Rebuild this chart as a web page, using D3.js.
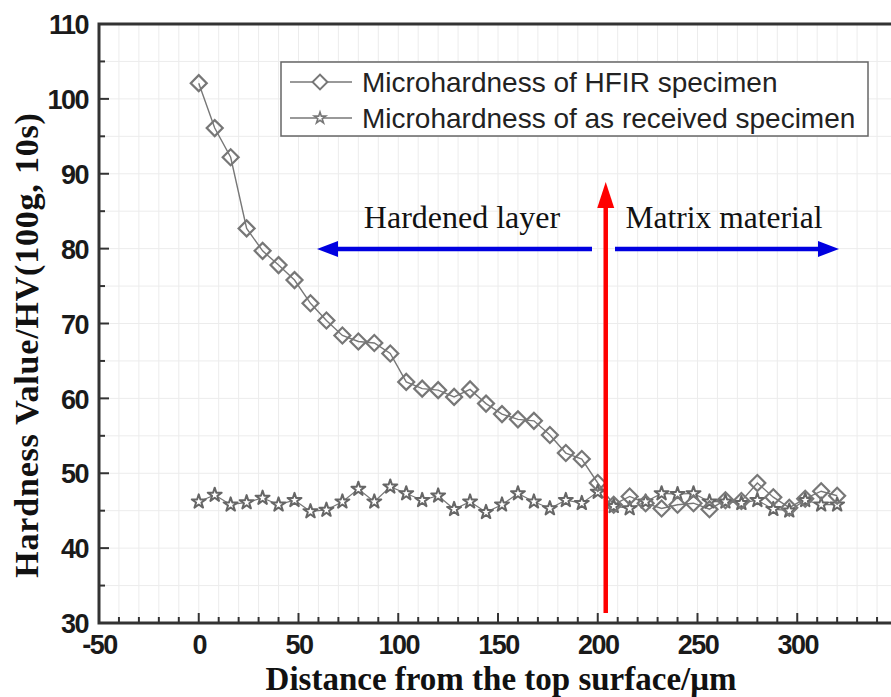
<!DOCTYPE html>
<html>
<head>
<meta charset="utf-8">
<script src="https://cdn.jsdelivr.net/npm/d3@7"></script>
<style>
  html, body { margin: 0; padding: 0; background: #fff; }
  svg { display: block; }
</style>
</head>
<body>
<svg id="chart" width="891" height="697"></svg>
<script>
// Measurement positions (µm from the top surface)
const distances = [0, 8, 16, 24, 32, 40, 48, 56, 64, 72, 80, 88, 96, 104, 112, 120, 128, 136, 144, 152,
  160, 168, 176, 184, 192, 200, 208, 216, 224, 232, 240, 248, 256, 264, 272, 280, 288, 296, 304, 312, 320];

// Microhardness of the HFIR-treated specimen (HV)
const hfirValues = [102.1, 96.1, 92.2, 82.7, 79.7, 77.8, 75.8, 72.7, 70.4, 68.4, 67.6, 67.4, 66.0, 62.2, 61.3,
  61.1, 60.2, 61.2, 59.3, 57.9, 57.2, 57.0, 55.1, 52.7, 51.9, 48.7, 45.8, 46.9, 46.0, 45.3, 45.8, 46.0, 45.2,
  46.4, 46.3, 48.7, 46.8, 45.4, 46.6, 47.6, 47.0];

// Microhardness of the as-received specimen (HV)
const receivedValues = [46.2, 47.1, 45.8, 46.1, 46.7, 45.8, 46.4, 44.9, 45.1, 46.2, 47.9, 46.2, 48.2, 47.3,
  46.4, 47.0, 45.2, 46.2, 44.8, 45.8, 47.3, 46.2, 45.3, 46.4, 46.0, 47.5, 45.6, 45.3, 46.2, 47.3, 47.2, 47.3,
  46.2, 46.2, 46.0, 46.4, 45.2, 45.0, 46.4, 45.8, 45.8];

const seriesNames = ["Microhardness of HFIR specimen", "Microhardness of as received specimen"];
const xTickValues = [-50, 0, 50, 100, 150, 200, 250, 300];
const yTickValues = [30, 40, 50, 60, 70, 80, 90, 100, 110];
const boundaryDistance = 204;
const regionLabels = ["Hardened layer", "Matrix material"];
const xTitle = "Distance from the top surface/\u03bcm";
const yTitle = "Hardness Value/HV(100g, 10s)";

const svg = d3.select("#chart");
const plotLeft = 99, plotRight = 897, plotTop = 24, plotBottom = 623;

const x = d3.scaleLinear().domain([-50, 350]).range([plotLeft, plotRight]);
const y = d3.scaleLinear().domain([30, 110]).range([plotBottom, plotTop]);

const axisColor = "#333";
const markColor = "#777";
const sans = "'Liberation Sans', Arial, sans-serif";
const serif = "'Liberation Serif', 'Times New Roman', serif";

// faint background grid
const grid = svg.append("g").attr("stroke", "#ececec").attr("stroke-width", 1);
grid.selectAll("line.v").data(d3.range(-40, 350, 10)).join("line")
  .attr("x1", d => x(d)).attr("x2", d => x(d)).attr("y1", plotTop).attr("y2", plotBottom);
grid.selectAll("line.h").data(d3.range(35, 110, 5)).join("line")
  .attr("y1", d => y(d)).attr("y2", d => y(d)).attr("x1", plotLeft).attr("x2", plotRight);

// series lines
const line = d3.line().x((d, i) => x(distances[i])).y(d => y(d));
svg.append("path").datum(receivedValues).attr("d", line)
  .attr("fill", "none").attr("stroke", markColor).attr("stroke-width", 1.2);
svg.append("path").datum(hfirValues).attr("d", line)
  .attr("fill", "none").attr("stroke", markColor).attr("stroke-width", 1.4);

const star = d3.symbol().type(d3.symbolStar).size(60);
const diamond = d3.symbol().type(d3.symbolSquare).size(128);

svg.append("g").selectAll("path").data(receivedValues).join("path")
  .attr("d", star)
  .attr("transform", (d, i) => `translate(${x(distances[i])},${y(d)})`)
  .attr("fill", "#fff").attr("stroke", "#666").attr("stroke-width", 2)
  .attr("stroke-linejoin", "round");

svg.append("g").selectAll("path").data(hfirValues).join("path")
  .attr("d", diamond)
  .attr("transform", (d, i) => `translate(${x(distances[i])},${y(d)}) rotate(45)`)
  .attr("fill", "none").attr("stroke", markColor).attr("stroke-width", 2.2);

// axes
const xAxis = d3.axisBottom(x).tickValues(xTickValues).tickSize(0).tickFormat(d => String(d));
const yAxis = d3.axisLeft(y).tickValues(yTickValues).tickSize(0).tickFormat(d => String(d));

const gx = svg.append("g").attr("transform", `translate(0,${plotBottom})`).call(xAxis);
gx.select(".domain").remove();
gx.selectAll("text").attr("dy", 0).attr("y", 31)
  .style("font-family", sans).style("font-weight", "bold")
  .style("font-size", "27px").style("letter-spacing", "-1.5px").attr("fill", "#1a1a1a");

const gy = svg.append("g").attr("transform", `translate(${plotLeft},0)`).call(yAxis);
gy.select(".domain").remove();
gy.selectAll("text").attr("x", -11).attr("dy", "0.36em")
  .style("font-family", sans).style("font-weight", "bold")
  .style("font-size", "27px").style("letter-spacing", "-1.5px").attr("fill", "#1a1a1a");

// inward tick marks
const ticks = svg.append("g").attr("stroke", axisColor).attr("stroke-width", 2);
ticks.selectAll("line.xt").data(d3.range(-40, 350, 10)).join("line")
  .attr("x1", d => x(d)).attr("x2", d => x(d))
  .attr("y1", plotBottom).attr("y2", d => plotBottom - (d % 50 === 0 ? 10 : 6));
ticks.selectAll("line.yt").data(d3.range(35, 110, 5)).join("line")
  .attr("y1", d => y(d)).attr("y2", d => y(d))
  .attr("x1", plotLeft).attr("x2", d => plotLeft + (d % 10 === 0 ? 10 : 6));

// frame
svg.append("path")
  .attr("d", `M${plotRight},${plotTop}H${plotLeft}V${plotBottom}H${plotRight}`)
  .attr("fill", "none").attr("stroke", axisColor).attr("stroke-width", 3);

// boundary arrow (red)
const redX = x(boundaryDistance);
svg.append("line").attr("x1", redX).attr("x2", redX).attr("y1", plotBottom - 10).attr("y2", 203)
  .attr("stroke", "#ff0000").attr("stroke-width", 4.5);
svg.append("path")
  .attr("d", `M${redX},182 L${redX - 8.5},208 L${redX + 8.5},208 Z`).attr("fill", "#ff0000");

// region arrows (blue)
const arrowY = 249;
const blue = "#0000e0";
svg.append("line").attr("x1", 335).attr("x2", 592).attr("y1", arrowY).attr("y2", arrowY)
  .attr("stroke", blue).attr("stroke-width", 4.5);
svg.append("path").attr("d", `M317,${arrowY} L338,${arrowY - 8} L338,${arrowY + 8} Z`).attr("fill", blue);
svg.append("line").attr("x1", 615).attr("x2", 822).attr("y1", arrowY).attr("y2", arrowY)
  .attr("stroke", blue).attr("stroke-width", 4.5);
svg.append("path").attr("d", `M839,${arrowY} L818,${arrowY - 8} L818,${arrowY + 8} Z`).attr("fill", blue);

svg.append("text").attr("x", 462).attr("y", 228).attr("text-anchor", "middle")
  .style("font-family", serif).style("font-size", "32px").attr("fill", "#111").text(regionLabels[0]);
svg.append("text").attr("x", 724).attr("y", 228).attr("text-anchor", "middle")
  .style("font-family", serif).style("font-size", "31.5px").attr("fill", "#111").text(regionLabels[1]);

// legend
const legend = svg.append("g");
legend.append("rect").attr("x", 281).attr("y", 62).attr("width", 587).attr("height", 74)
  .attr("fill", "#fff").attr("stroke", "#666").attr("stroke-width", 1.5);
const rows = [82, 118];
rows.forEach((ry, i) => {
  legend.append("line").attr("x1", 290).attr("x2", 352).attr("y1", ry).attr("y2", ry)
    .attr("stroke", markColor).attr("stroke-width", 1.5);
  legend.append("path")
    .attr("d", i === 0 ? d3.symbol().type(d3.symbolSquare).size(110) : d3.symbol().type(d3.symbolStar).size(40))
    .attr("transform", `translate(320,${ry})` + (i === 0 ? " rotate(45)" : ""))
    .attr("fill", "#fff").attr("stroke", markColor).attr("stroke-width", i === 0 ? 2 : 1.6);
  legend.append("text").attr("x", 362).attr("y", ry).attr("dy", "0.36em")
    .style("font-family", sans).style("font-size", "28px")
    .attr("fill", "#222").text(seriesNames[i]);
});

// axis titles
svg.append("text").attr("x", 501).attr("y", 690).attr("text-anchor", "middle")
  .style("font-family", serif).style("font-weight", "bold").style("font-size", "33px")
  .attr("fill", "#111").text(xTitle);
svg.append("text").attr("transform", "translate(38,345) rotate(-90)").attr("text-anchor", "middle")
  .style("font-family", serif).style("font-weight", "bold").style("font-size", "34px")
  .style("letter-spacing", "0.8px")
  .attr("fill", "#111").text(yTitle);
</script>
</body>
</html>
